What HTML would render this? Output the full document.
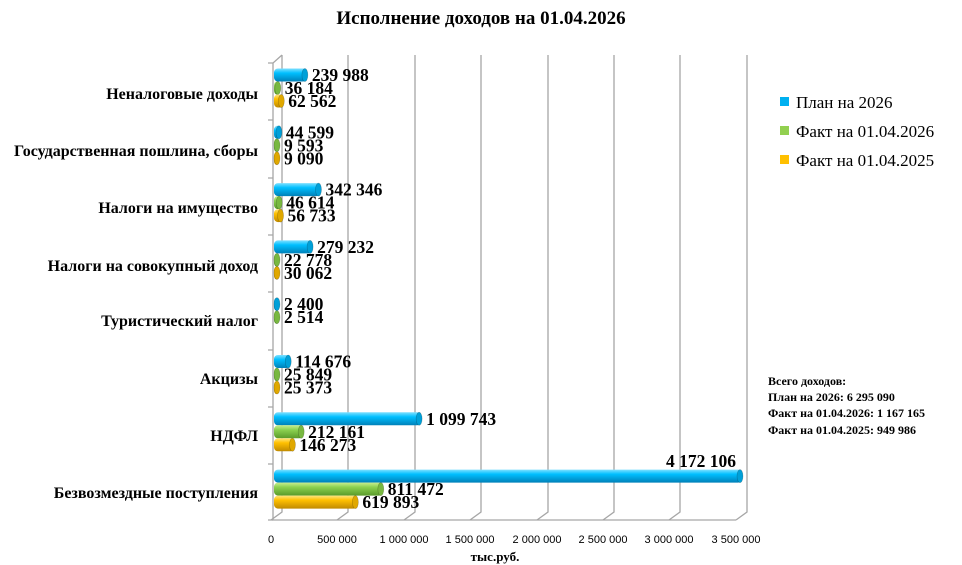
<!DOCTYPE html>
<html><head><meta charset="utf-8"><style>
body{margin:0;background:#fff}
svg{display:block}
text{font-family:"Liberation Serif",serif}
text.s{font-family:"Liberation Sans",sans-serif}
</style></head><body>
<svg width="962" height="565" viewBox="0 0 962 565" xmlns="http://www.w3.org/2000/svg">
<defs>
<linearGradient id="gb" x1="0" y1="0" x2="0" y2="1"><stop offset="0" stop-color="#7fe0ff"/><stop offset="0.35" stop-color="#00bfff"/><stop offset="1" stop-color="#0080b8"/></linearGradient>
<linearGradient id="gg" x1="0" y1="0" x2="0" y2="1"><stop offset="0" stop-color="#c8ee90"/><stop offset="0.35" stop-color="#8cd150"/><stop offset="1" stop-color="#5a9a2a"/></linearGradient>
<linearGradient id="go" x1="0" y1="0" x2="0" y2="1"><stop offset="0" stop-color="#ffe680"/><stop offset="0.35" stop-color="#ffc000"/><stop offset="1" stop-color="#c08a00"/></linearGradient>
</defs>
<text x="481" y="24" text-anchor="middle" font-size="19" font-weight="bold">Исполнение доходов на 01.04.2026</text>
<g stroke="#a6a6a6" stroke-width="1.3" fill="none">
<path d="M282 55V512L271 520"/><path d="M348 55V512L337 520"/><path d="M415 55V512L404 520"/><path d="M481 55V512L470 520"/><path d="M548 55V512L537 520"/><path d="M614 55V512L603 520"/><path d="M680 55V512L669 520"/><path d="M747 55V512L736 520"/>
<path d="M282 55L273 63V520H736"/>
<path d="M268 63h5M268 120h5M268 178h5M268 235h5M268 292h5M268 350h5M268 407h5M268 464h5M268 520h5"/>
</g>
<g font-size="11" text-anchor="middle" fill="#000">
<text class="s" x="271" y="543">0</text>
<text class="s" x="337" y="543">500 000</text>
<text class="s" x="404" y="543">1 000 000</text>
<text class="s" x="470" y="543">1 500 000</text>
<text class="s" x="537" y="543">2 000 000</text>
<text class="s" x="603" y="543">2 500 000</text>
<text class="s" x="669" y="543">3 000 000</text>
<text class="s" x="736" y="543">3 500 000</text>
</g>
<text x="495" y="561" text-anchor="middle" font-size="13" font-weight="bold">тыс.руб.</text>
<g font-size="16" font-weight="bold" text-anchor="end">
<text x="258" y="99">Неналоговые доходы</text>
<text x="258" y="156">Государственная пошлина, сборы</text>
<text x="258" y="213">Налоги на имущество</text>
<text x="258" y="271">Налоги на совокупный доход</text>
<text x="258" y="326">Туристический налог</text>
<text x="258" y="384">Акцизы</text>
<text x="258" y="441">НДФЛ</text>
<text x="258" y="498">Безвозмездные поступления</text>
</g>
<g font-size="17">
<rect x="780" y="97" width="9" height="9" fill="#00b0f0"/><text x="796" y="108">План на 2026</text>
<rect x="780" y="126" width="9" height="9" fill="#92d050"/><text x="796" y="137">Факт на 01.04.2026</text>
<rect x="780" y="155" width="9" height="9" fill="#ffc000"/><text x="796" y="166">Факт на 01.04.2025</text>
</g>
<g font-size="12" font-weight="bold">
<text x="768" y="385">Всего доходов:</text>
<text x="768" y="401">План на 2026: 6 295 090</text>
<text x="768" y="417">Факт на 01.04.2026: 1 167 165</text>
<text x="768" y="434">Факт на 01.04.2025: 949 986</text>
</g>
<g id="B"></g>
</svg>
<script>
var data=[[239988,36184,62562],[44599,9593,9090],[342346,46614,56733],[279232,22778,30062],[2400,2514,null],[114676,25849,25373],[1099743,212161,146273],[4172106,811472,619893]];
var g=document.getElementById('B'),ns='http://www.w3.org/2000/svg',fills=['url(#gb)','url(#gg)','url(#go)'],caps=['#00a0d8','#78b840','#e0a800'],offs=[-18,-5,8];
function fmt(v){return v.toString().replace(/\B(?=(\d{3})+(?!\d))/g,' ');}
function el(t,a){var e=document.createElementNS(ns,t);for(var k in a)e.setAttribute(k,a[k]);g.appendChild(e);return e;}
var s=465/3500000;
data.forEach(function(r,i){var c=93+57.3*i;r.forEach(function(v,j){if(v==null)return;var y=c+offs[j];var w=Math.max(4,v*s);var x1=275+w;if(x1>742)x1=742;
el('rect',{x:274,y:y-6.5,width:x1-274,height:13,rx:4,fill:fills[j]});
el('ellipse',{cx:x1-2,cy:y,rx:3,ry:6.5,fill:caps[j],stroke:'rgba(0,0,0,0.25)','stroke-width':0.6});
var tx=x1+5,ty=y+6,anchor='start';
if(i==7&&j==0){tx=736;ty=y-9;anchor='end';}
var t=el('text',{x:tx,y:ty,'font-size':17.5,'font-weight':'bold','text-anchor':anchor});t.textContent=fmt(v);});});
</script>
</body></html>
